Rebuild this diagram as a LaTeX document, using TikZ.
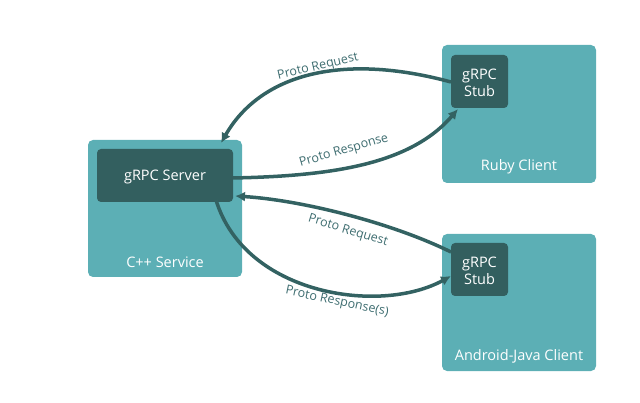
\documentclass[tikz,border=0pt]{standalone}
\usepackage{fontspec}
\setmainfont{Open Sans}
\usetikzlibrary{arrows.meta}
\definecolor{outerteal}{HTML}{5CAFB5}
\definecolor{innerdark}{HTML}{335F5F}
\definecolor{arrowc}{HTML}{336262}
\definecolor{labelc}{HTML}{3E6D70}
\begin{document}
\begin{tikzpicture}[x=1pt,y=-1pt,
  outerbox/.style={fill=outerteal,rounded corners=5pt,draw=none},
  innerbox/.style={fill=innerdark,rounded corners=4pt,draw=none},
  boxtext/.style={text=white,font=\fontsize{14.5}{16.5}\selectfont,align=center,inner sep=0pt},
  lbl/.style={text=labelc,font=\fontsize{12.5}{14}\selectfont,inner sep=0pt},
  conn/.style={draw=arrowc,line width=3.5pt,-{Latex[length=10pt,width=10pt]}}]
\useasboundingbox (0,0) rectangle (640,403);
% C++ service
\path[outerbox] (88,140) rectangle (242,277);
\path[innerbox] (97,149) rectangle (233,202);
\node[boxtext] (srv) at (165,177) {gRPC Server};
\node[boxtext] (cpp) at (165,262) {C++ Service};
\coordinate (srvTR) at (221,143);
\coordinate (srvR) at (233,178);
\coordinate (srvR2) at (235,196);
\coordinate (srvB) at (216,200);
% Ruby client
\path[outerbox] (442,45) rectangle (596,183);
\path[innerbox] (451,55) rectangle (508,108);
\node[boxtext] (rstub) at (479.5,83) {gRPC\\Stub};
\node[boxtext] (ruby) at (519,167) {Ruby Client};
\coordinate (rL) at (451,82);
\coordinate (rBL) at (458,109);
% Android client
\path[outerbox] (442,234) rectangle (596,371);
\path[innerbox] (451,243) rectangle (508,296);
\node[boxtext] (astub) at (479.5,271) {gRPC\\Stub};
\node[boxtext] (andr) at (519,356) {Android-Java Client};
\coordinate (aL) at (451,252);
\coordinate (aL2) at (451,276);
% connectors
\draw[conn] (rL) .. controls (340,52) and (260,75) .. (srvTR);
\draw[conn] (srvR) .. controls (330,176) and (410,165) .. (rBL);
\draw[conn] (aL) .. controls (390,222) and (300,200) .. (srvR2);
\draw[conn] (srvB) .. controls (245,295) and (380,315) .. (aL2);
% labels
\node[lbl,rotate=13] at (318,67) {Proto Request};
\node[lbl,rotate=16] at (344,151) {Proto Response};
\node[lbl,rotate=-17] at (348,231) {Proto Request};
\node[lbl,rotate=-12] at (337,302) {Proto Response(s)};
\end{tikzpicture}
\end{document}
